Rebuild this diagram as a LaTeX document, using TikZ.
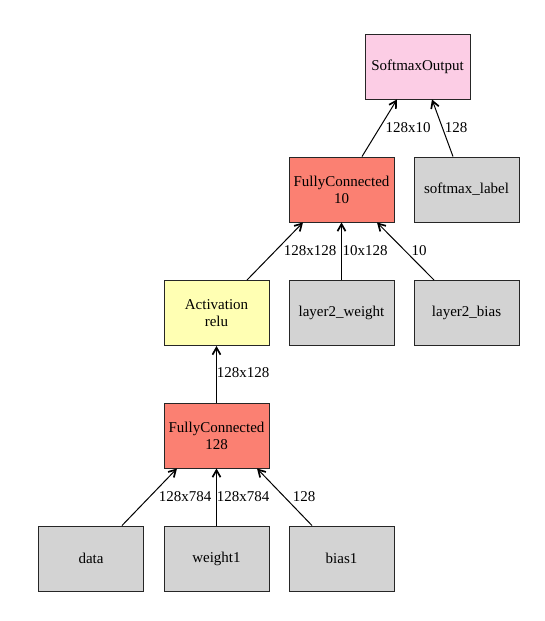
\documentclass[tikz,border=0pt]{standalone}
\usepackage{fontspec}
\setmainfont{Liberation Serif}
\usetikzlibrary{arrows.meta}
\definecolor{fcfill}{HTML}{FB8072}
\definecolor{actfill}{HTML}{FFFFB3}
\definecolor{smfill}{HTML}{FCCDE5}
\definecolor{varfill}{HTML}{D3D3D3}
\begin{document}
\begin{tikzpicture}[x=1pt,y=1pt,
  box/.style={draw=black!85, line width=0.9pt, minimum width=105pt, minimum height=65pt, inner sep=0pt, align=center, font=\fontsize{15}{17}\selectfont},
  fcbox/.style={box, fill=fcfill},
  actbox/.style={box, fill=actfill},
  smbox/.style={box, fill=smfill},
  varbox/.style={box, fill=varfill},
  edge/.style={draw=black, line width=1pt, -{Straight Barb[length=7pt, width=8pt, line width=1.7pt]}},
  lbl/.style={inner sep=0pt, font=\fontsize{15}{17}\selectfont}]
\useasboundingbox (0,0) rectangle (545,621);
\node[smbox] (sm) at (417.5,554.5) {SoftmaxOutput};
\node[fcbox] (fc10) at (341.5,431.5) {FullyConnected\\10};
\node[varbox] (lab) at (466.5,431.5) {softmax\_label};
\node[actbox] (act) at (216.5,308) {Activation\\relu};
\node[varbox] (l2w) at (341.5,308) {layer2\_weight};
\node[varbox] (l2b) at (466.5,308) {layer2\_bias};
\node[fcbox] (fc128) at (216.5,185.5) {FullyConnected\\128};
\node[varbox] (data) at (91,62.5) {data};
\node[varbox] (w1) at (216.5,62.5) {weight1};
\node[varbox] (b1) at (341.5,62.5) {bias1};
\draw[edge] ([xshift=20.5pt]fc10.north) -- ([xshift=-20.5pt]sm.south);
\draw[edge] ([xshift=-13.5pt]lab.north) -- ([xshift=14.5pt]sm.south);
\draw[edge] ([xshift=30.5pt]act.north) -- ([xshift=-38.5pt]fc10.south);
\draw[edge] (l2w.north) -- (fc10.south);
\draw[edge] ([xshift=-32.5pt]l2b.north) -- ([xshift=35.5pt]fc10.south);
\draw[edge] (fc128.north) -- (act.south);
\draw[edge] ([xshift=31pt]data.north) -- ([xshift=-39.5pt]fc128.south);
\draw[edge] (w1.north) -- (fc128.south);
\draw[edge] ([xshift=-29.5pt]b1.north) -- ([xshift=40.5pt]fc128.south);
\node[lbl] (e1) at (408,493) {128x10};
\node[lbl] (e2) at (456,493) {128};
\node[lbl] (e3) at (310,370) {128x128};
\node[lbl] (e4) at (365,370) {10x128};
\node[lbl] (e5) at (419,370) {10};
\node[lbl] (e6) at (243,248) {128x128};
\node[lbl] (e7) at (185,124) {128x784};
\node[lbl] (e8) at (243,124) {128x784};
\node[lbl] (e9) at (304,124) {128};
\end{tikzpicture}
\end{document}
